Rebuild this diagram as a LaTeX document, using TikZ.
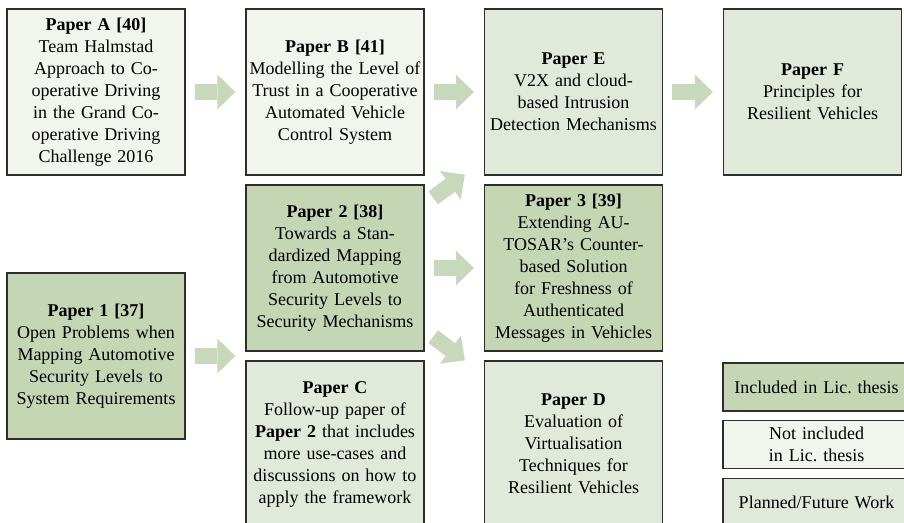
\documentclass[tikz,border=0pt]{standalone}
\usepackage{fontspec}
\setmainfont{Liberation Serif}
\usetikzlibrary{arrows.meta}

\definecolor{incl}{HTML}{C5D6B5}
\definecolor{notincl}{HTML}{F2F4EE}
\definecolor{planned}{HTML}{E1E9DA}
\definecolor{flowgreen}{HTML}{C8D8BA}
\definecolor{boxline}{HTML}{2E2E2E}

\tikzset{
  paper/.style={draw=boxline,line width=0.65pt,inner sep=0pt,
    minimum width=89pt,minimum height=83pt,text width=87pt,align=center,
    font=\fontsize{9}{11}\selectfont},
  legend/.style={paper,minimum width=93.5pt,minimum height=24pt,text width=92pt},
  flow/.style={draw=flowgreen,line width=8pt,line cap=butt,
    -{Triangle[width=17.5pt,length=9pt,line width=0pt]}}
}

\begin{document}
\begin{tikzpicture}[x=0.5pt,y=-0.5pt]
        \clip (0,0) rectangle (904,523);

        \node[paper,fill=notincl] (pA) at (96,92) {\textbf{Paper A [40]}\\Team Halmstad\\Approach to Co-\\operative Driving\\in the Grand Co-\\operative Driving\\Challenge 2016};
        \node[paper,fill=notincl] (pB) at (335,92) {\textbf{Paper B [41]}\\Modelling the Level of\\Trust in a Cooperative\\Automated Vehicle\\Control System};
        \node[paper,fill=planned] (pE) at (573.5,92) {\textbf{Paper E}\\V2X and cloud-\\based Intrusion\\Detection Mechanisms};
        \node[paper,fill=planned] (pF) at (812.5,92) {\textbf{Paper F}\\Principles for\\Resilient Vehicles};

        \node[paper,fill=incl] (p2) at (335,268) {\textbf{Paper 2 [38]}\\Towards a Stan-\\dardized Mapping\\from Automotive\\Security Levels to\\Security Mechanisms};
        \node[paper,fill=incl] (p3) at (573.5,268) {\textbf{Paper 3 [39]}\\Extending AU-\\TOSAR's Counter-\\based Solution\\for Freshness of\\Authenticated\\Messages in Vehicles};
        \node[paper,fill=incl] (p1) at (96,356) {\textbf{Paper 1 [37]}\\Open Problems when\\Mapping Automotive\\Security Levels to\\System Requirements};

        \node[paper,fill=planned] (pC) at (335,444) {\textbf{Paper C}\\Follow-up paper of\\\textbf{Paper 2} that includes\\more use-cases and\\discussions on how to\\apply the framework};
        \node[paper,fill=planned] (pD) at (573.5,444) {\textbf{Paper D}\\Evaluation of\\Virtualisation\\Techniques for\\Resilient Vehicles};

        % legend
        \node[legend,fill=incl] (lincl) at (816.5,387) {Included in Lic.\ thesis};
        \node[legend,fill=notincl] (lnot) at (816.5,444.5) {Not included\\in Lic.\ thesis};
        \node[legend,fill=planned] (lplan) at (816.5,502.5) {Planned/Future Work};

        \draw[flow,shorten <=4.5pt,shorten >=5pt] (pA) -- (pB);
        \draw[flow,shorten <=4.5pt,shorten >=5pt] (pB) -- (pE);
        \draw[flow,shorten <=4.5pt,shorten >=5pt] (pE) -- (pF);
        \draw[flow,shorten <=4.5pt,shorten >=5pt] (p1) -- (p1 -| pC.west);
        \draw[flow,shorten <=4.5pt,shorten >=5pt] (p2) -- (p3);
        \draw[flow] ([shift={(8.5,13.5)}]p2.north east) -- ([shift={(-19,-1)}]pE.south west);
        \draw[flow] ([shift={(8.5,-15)}]p2.south east) -- ([shift={(-19,0)}]pD.north west);
      \end{tikzpicture}
\end{document}
